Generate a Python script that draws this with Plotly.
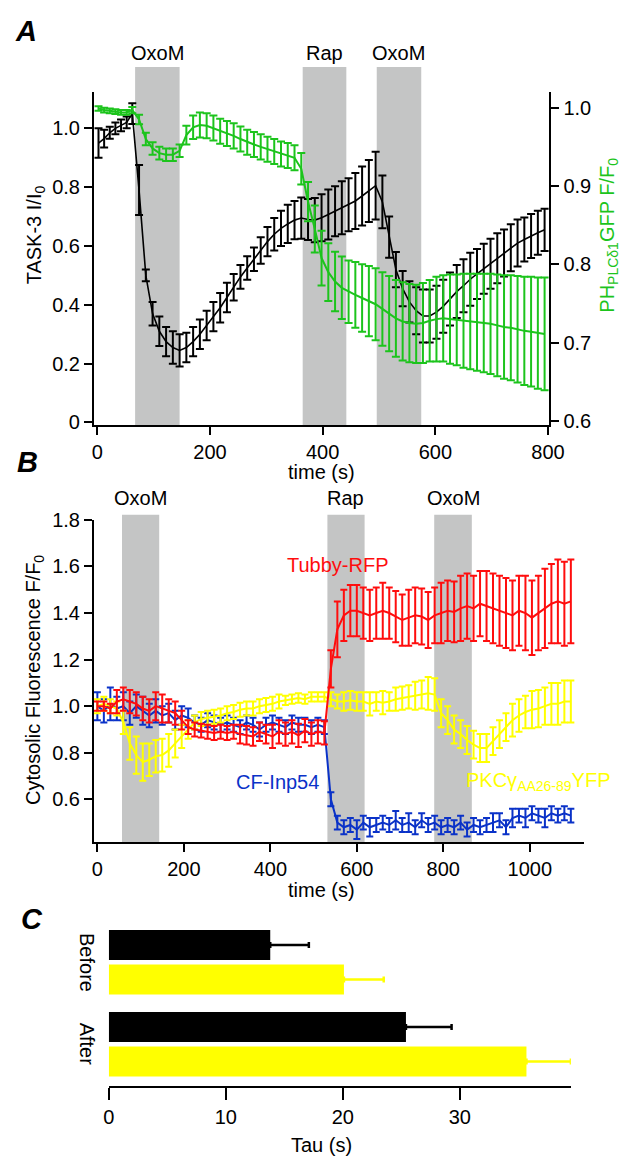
import plotly.graph_objects as go

W, H = 636, 1166
FONT = "Liberation Sans, Arial, Helvetica, sans-serif"

# ---------------- Panel A data ----------------
tA = [2, 12, 22, 32, 42, 52, 62,
      74, 86, 98, 110, 122, 134, 146, 158, 170, 182,
      194, 206, 218, 230, 242, 254, 266, 278, 290, 302,
      314, 326, 338, 350, 362, 374, 386, 398, 410, 422,
      434, 446, 458, 470, 482, 494, 506, 518, 530, 542,
      554, 566, 578, 590, 602, 614, 626, 638, 650, 662,
      674, 686, 698, 710, 722, 734, 746, 758, 770, 782,
      794]
task3 = [0.95, 0.965, 0.985, 1.0, 1.01, 1.02, 1.05,
         0.79, 0.50, 0.37, 0.31, 0.275, 0.255, 0.245, 0.255, 0.275, 0.30,
         0.33, 0.36, 0.39, 0.425, 0.46, 0.495, 0.525, 0.555, 0.585, 0.615,
         0.64, 0.66, 0.675, 0.688, 0.695, 0.69, 0.688, 0.696, 0.707, 0.718,
         0.73, 0.74, 0.753, 0.77, 0.787, 0.805, 0.75, 0.63, 0.52, 0.455,
         0.41, 0.38, 0.362, 0.362, 0.375, 0.395, 0.42, 0.445, 0.465, 0.487,
         0.505, 0.523, 0.54, 0.558, 0.576, 0.594, 0.61, 0.622, 0.634, 0.645,
         0.655]
task3_err = [0.05, 0.03, 0.02, 0.02, 0.02, 0.02, 0.035,
             0.085, 0.02, 0.04, 0.05, 0.05, 0.055, 0.055, 0.05, 0.05, 0.05,
             0.05, 0.05, 0.05, 0.05, 0.045, 0.04, 0.04, 0.04, 0.045, 0.05,
             0.055, 0.06, 0.065, 0.065, 0.07, 0.07, 0.075, 0.08, 0.085, 0.085,
             0.09, 0.09, 0.095, 0.10, 0.105, 0.115, 0.09, 0.07, 0.06, 0.06,
             0.07, 0.08, 0.09, 0.09, 0.09, 0.09, 0.09, 0.09, 0.09, 0.09,
             0.085, 0.085, 0.085, 0.085, 0.08, 0.08, 0.08, 0.075, 0.075, 0.075,
             0.072]
ph = [0.999, 0.997, 0.996, 0.995, 0.994, 0.994, 0.997,
      0.985, 0.96, 0.948, 0.942, 0.940, 0.940, 0.945, 0.965, 0.975, 0.978,
      0.977, 0.974, 0.970, 0.967, 0.964, 0.960, 0.956, 0.953, 0.950, 0.947,
      0.944, 0.941, 0.939, 0.936, 0.922, 0.880, 0.845, 0.808, 0.790, 0.778,
      0.770, 0.765, 0.761, 0.757, 0.753, 0.749, 0.743, 0.737, 0.731, 0.727,
      0.725, 0.724, 0.725, 0.728, 0.730, 0.731, 0.730, 0.729, 0.728, 0.727,
      0.726, 0.725, 0.724, 0.722, 0.720, 0.719, 0.717, 0.715, 0.714, 0.712,
      0.711]
ph_err = [0.003, 0.003, 0.003, 0.003, 0.003, 0.003, 0.004,
          0.006, 0.008, 0.008, 0.008, 0.008, 0.008, 0.008, 0.012, 0.015, 0.016,
          0.016, 0.016, 0.016, 0.016, 0.016, 0.016, 0.016, 0.016, 0.016, 0.016,
          0.016, 0.016, 0.016, 0.016, 0.02, 0.025, 0.03, 0.035, 0.037, 0.038,
          0.04, 0.04, 0.042, 0.043, 0.045, 0.046, 0.047, 0.048, 0.049, 0.05,
          0.05, 0.05, 0.051, 0.052, 0.054, 0.055, 0.057, 0.058, 0.06, 0.061,
          0.062, 0.063, 0.064, 0.065, 0.066, 0.067, 0.068, 0.069, 0.07, 0.071,
          0.072]
bandsA = [(67, 146, "OxoM"), (364.5, 442, "Rap"), (496, 575, "OxoM")]

# ---------------- Panel B data ----------------
tB = [0, 15, 30, 45, 60, 75, 90, 105, 120, 135,
      150, 165, 180, 195, 210, 225, 240, 255, 270, 285,
      300, 315, 330, 345, 360, 375, 390, 405, 420, 435,
      450, 465, 480, 495, 510, 525, 540, 555, 570, 585,
      600, 615, 630, 645, 660, 675, 690, 705, 720, 735,
      750, 765, 780, 795, 810, 825, 840, 855, 870, 885,
      900, 915, 930, 945, 960, 975, 990, 1005, 1020, 1035,
      1050, 1065, 1080, 1095]
tubby = [1.00, 1.00, 0.99, 1.02, 1.03, 1.02, 1.01, 0.99, 0.98, 1.00,
         0.99, 0.98, 0.97, 0.94, 0.91, 0.90, 0.895, 0.89, 0.885, 0.89,
         0.885, 0.89, 0.88, 0.875, 0.87, 0.89, 0.88, 0.87, 0.89, 0.88,
         0.89, 0.875, 0.895, 0.88, 0.89, 0.885, 1.16, 1.33, 1.39, 1.41,
         1.41, 1.40, 1.39, 1.40, 1.41, 1.40, 1.385, 1.37, 1.38, 1.39,
         1.385, 1.37, 1.39, 1.40, 1.41, 1.405, 1.42, 1.43, 1.42, 1.44,
         1.43, 1.42, 1.41, 1.40, 1.39, 1.41, 1.40, 1.38, 1.40, 1.42,
         1.44, 1.45, 1.44, 1.45]
tubby_err = [0.02, 0.02, 0.02, 0.05, 0.05, 0.05, 0.05, 0.05, 0.05, 0.06,
             0.06, 0.05, 0.05, 0.04, 0.03, 0.03, 0.03, 0.03, 0.03, 0.03,
             0.03, 0.03, 0.04, 0.04, 0.04, 0.04, 0.04, 0.05, 0.05, 0.05,
             0.05, 0.05, 0.05, 0.05, 0.05, 0.05, 0.08, 0.12, 0.11, 0.11,
             0.11, 0.11, 0.11, 0.11, 0.12, 0.11, 0.11, 0.11, 0.12, 0.12,
             0.12, 0.12, 0.12, 0.13, 0.13, 0.13, 0.14, 0.14, 0.14, 0.14,
             0.15, 0.15, 0.15, 0.15, 0.15, 0.15, 0.16, 0.16, 0.16, 0.17,
             0.17, 0.18, 0.18, 0.18]
inp54 = [1.00, 0.98, 1.01, 0.99, 1.00, 0.97, 1.00, 0.98, 0.96, 0.98,
         0.96, 0.97, 0.94, 0.96, 0.95, 0.93, 0.92, 0.94, 0.93, 0.92,
         0.93, 0.92, 0.91, 0.93, 0.92, 0.90, 0.92, 0.93, 0.92, 0.91,
         0.93, 0.92, 0.92, 0.91, 0.92, 0.91, 0.60, 0.50, 0.48, 0.49,
         0.47, 0.50, 0.48, 0.49, 0.50, 0.49, 0.51, 0.49, 0.50, 0.48,
         0.51, 0.49, 0.50, 0.48, 0.49, 0.48, 0.50, 0.47, 0.49, 0.48,
         0.49, 0.50, 0.51, 0.48, 0.52, 0.53, 0.52, 0.54, 0.53, 0.52,
         0.54, 0.53, 0.54, 0.53]
inp54_err = [0.06, 0.05, 0.07, 0.05, 0.06, 0.05, 0.05, 0.06, 0.05, 0.05,
             0.04, 0.04, 0.04, 0.04, 0.04, 0.03, 0.03, 0.03, 0.03, 0.03,
             0.03, 0.03, 0.03, 0.03, 0.03, 0.03, 0.03, 0.03, 0.03, 0.03,
             0.03, 0.03, 0.03, 0.03, 0.03, 0.03, 0.03, 0.03, 0.03, 0.03,
             0.04, 0.03, 0.04, 0.03, 0.03, 0.03, 0.04, 0.03, 0.04, 0.03,
             0.03, 0.03, 0.03, 0.03, 0.03, 0.03, 0.03, 0.03, 0.03, 0.03,
             0.03, 0.04, 0.03, 0.03, 0.04, 0.03, 0.04, 0.03, 0.03, 0.04,
             0.03, 0.03, 0.03, 0.03]
pkc = [1.00, 1.01, 1.00, 0.99, 0.93, 0.84, 0.79, 0.76, 0.77, 0.785,
       0.79, 0.81, 0.84, 0.87, 0.90, 0.93, 0.945, 0.95, 0.955, 0.96,
       0.97, 0.975, 0.985, 0.99, 0.99, 1.00, 1.005, 1.01, 1.02, 1.025,
       1.03, 1.035, 1.03, 1.04, 1.04, 1.04, 1.03, 1.02, 1.02, 1.025,
       1.02, 1.02, 1.01, 1.02, 1.015, 1.02, 1.03, 1.035, 1.04, 1.045,
       1.05, 1.055, 1.05, 0.97, 0.94, 0.90, 0.88, 0.855, 0.835, 0.82,
       0.82, 0.85, 0.88, 0.91, 0.94, 0.96, 0.975, 0.985, 0.99, 1.00,
       1.01, 1.01, 1.02, 1.02]
pkc_err = [0.03, 0.03, 0.03, 0.03, 0.05, 0.07, 0.08, 0.08, 0.07, 0.07,
           0.07, 0.07, 0.06, 0.05, 0.04, 0.03, 0.03, 0.03, 0.03, 0.03,
           0.03, 0.03, 0.03, 0.03, 0.03, 0.03, 0.03, 0.03, 0.03, 0.02,
           0.02, 0.02, 0.02, 0.02, 0.02, 0.02, 0.03, 0.03, 0.04, 0.04,
           0.04, 0.04, 0.05, 0.04, 0.05, 0.04, 0.05, 0.05, 0.05, 0.06,
           0.06, 0.07, 0.07, 0.06, 0.06, 0.06, 0.06, 0.06, 0.06, 0.06,
           0.06, 0.06, 0.06, 0.06, 0.07, 0.07, 0.07, 0.08, 0.08, 0.08,
           0.09, 0.09, 0.09, 0.09]
bandsB = [(57, 143, "OxoM"), (532, 618, "Rap"), (779, 866, "OxoM")]

# ---------------- Panel C data ----------------
groups = ["Before", "After"]
tau_black = [13.8, 25.4]
tau_black_err = [3.3, 3.9]
tau_yellow = [20.1, 35.7]
tau_yellow_err = [3.4, 3.8]

# ---------------- colours ----------------
BLACK = "#000000"
GREEN = "#1cc41c"
RED = "#ff0d0d"
BLUE = "#0a32c8"
YELLOW = "#ffff00"
GRAY = "#c4c5c5"


def px(x):
    return x / W


def py(y):
    return 1 - y / H


fig = go.Figure()

# Panel A traces
fig.add_trace(go.Scatter(
    x=tA, y=task3, mode="lines", line=dict(color=BLACK, width=1.6),
    error_y=dict(type="data", array=task3_err, color=BLACK, thickness=2, width=4),
    xaxis="x", yaxis="y", showlegend=False))
fig.add_trace(go.Scatter(
    x=tA, y=ph, mode="lines", line=dict(color=GREEN, width=2),
    error_y=dict(type="data", array=ph_err, color=GREEN, thickness=2, width=4),
    xaxis="x", yaxis="y2", showlegend=False))

# Panel B traces
for vals, errs, col in [(inp54, inp54_err, BLUE), (pkc, pkc_err, YELLOW), (tubby, tubby_err, RED)]:
    fig.add_trace(go.Scatter(
        x=tB, y=vals, mode="lines", line=dict(color=col, width=2),
        error_y=dict(type="data", array=errs, color=col, thickness=2, width=3.5),
        xaxis="x2", yaxis="y3", showlegend=False))

# Panel C traces
fig.add_trace(go.Bar(
    x=tau_black, y=groups, orientation="h", marker=dict(color=BLACK, line=dict(width=0)),
    error_x=dict(type="data", array=tau_black_err, arrayminus=[0, 0], symmetric=False,
                 color=BLACK, thickness=2.5, width=3),
    xaxis="x3", yaxis="y4", showlegend=False))
fig.add_trace(go.Bar(
    x=tau_yellow, y=groups, orientation="h", marker=dict(color=YELLOW, line=dict(width=0)),
    error_x=dict(type="data", array=tau_yellow_err, arrayminus=[0, 0], symmetric=False,
                 color=YELLOW, thickness=2.5, width=3),
    xaxis="x3", yaxis="y4", showlegend=False))

shapes = []
annotations = []


def ann(text, x, y, size=20, color="black", angle=0, xanchor="center"):
    annotations.append(dict(text=text, x=px(x), y=py(y), xref="paper", yref="paper",
                            showarrow=False, xanchor=xanchor, yanchor="middle",
                            textangle=angle, font=dict(size=size, color=color, family=FONT)))


for (a, b, lab) in bandsA:
    shapes.append(dict(type="rect", xref="x", yref="paper", x0=a, x1=b,
                       y0=py(421), y1=py(57), fillcolor=GRAY, line=dict(width=0), layer="below"))
    annotations.append(dict(text=lab, x=(a + b) / 2, y=py(43), xref="x", yref="paper",
                            showarrow=False, xanchor="center", yanchor="middle",
                            font=dict(size=20, color="black", family=FONT)))
for (a, b, lab) in bandsB:
    shapes.append(dict(type="rect", xref="x2", yref="paper", x0=a, x1=b,
                       y0=py(845), y1=py(512), fillcolor=GRAY, line=dict(width=0), layer="below"))
    annotations.append(dict(text=lab, x=(a + b) / 2, y=py(495), xref="x2", yref="paper",
                            showarrow=False, xanchor="center", yanchor="middle",
                            font=dict(size=20, color="black", family=FONT)))

# panel letters
ann("<b><i>A</i></b>", 21, 20, size=29)
ann("<b><i>B</i></b>", 22, 458, size=29)
ann("<b><i>C</i></b>", 27, 923, size=29)

# axis titles
ann("TASK-3 I/I<sub>0</sub>", 30, 228, angle=-90)
ann("PH<sub>PLCδ1</sub>GFP F/F<sub>0</sub>", 623, 228, color=GREEN, angle=-90)
ann("time (s)", 326, 469)
ann("Cytosolic Fluorescence F/F<sub>0</sub>", 30, 680, angle=-90)
ann("time (s)", 326, 894)
ann("Tau (s)", 326, 1153)

# series labels in B
ann("Tubby-RFP", 343, 563, color=RED)
ann("CF-Inp54", 281, 784, color=BLUE)
ann("PKCγ<sub>AA26-89</sub>YFP", 551, 783, color=YELLOW)

# group labels in C
for g, yc in zip(groups, [967, 1050]):
    ann(g, 84, yc, angle=90)

axis_common = dict(showline=True, linewidth=2, linecolor="black", ticks="outside",
                   ticklen=8, tickwidth=2, tickcolor="black", showgrid=False, zeroline=False,
                   tickfont=dict(size=20, color="black", family=FONT), fixedrange=True)

fig.update_layout(
    width=W, height=H, margin=dict(l=0, r=0, t=0, b=0),
    paper_bgcolor="white", plot_bgcolor="rgba(0,0,0,0)",
    font=dict(family=FONT, size=20, color="black"),
    barmode="group", bargap=0.16, bargroupgap=0.13,
    shapes=shapes, annotations=annotations,
    xaxis=dict(domain=[px(91), px(562)], anchor="y", range=[-6, 802.6],
               tickvals=[0, 200, 400, 600, 800], **axis_common),
    yaxis=dict(domain=[py(421), py(82)], anchor="x", range=[-0.009, 1.1247],
               tickvals=[0, 0.2, 0.4, 0.6, 0.8, 1.0],
               ticktext=["0", "0.2", "0.4", "0.6", "0.8", "1.0"], **axis_common),
    yaxis2=dict(overlaying="y", side="right", anchor="x", range=[0.5946, 1.0205],
                tickvals=[0.6, 0.7, 0.8, 0.9, 1.0],
                ticktext=["0.6", "0.7", "0.8", "0.9", "1.0"], **axis_common),
    xaxis2=dict(domain=[px(91), px(598)], anchor="y3", range=[-7.8, 1126],
                tickvals=[0, 200, 400, 600, 800, 1000], **axis_common),
    yaxis3=dict(domain=[py(845), py(517.3)], anchor="x2", range=[0.4158, 1.8],
                tickvals=[0.6, 0.8, 1.0, 1.2, 1.4, 1.6, 1.8],
                ticktext=["0.6", "0.8", "1.0", "1.2", "1.4", "1.6", "1.8"], **axis_common),
    xaxis3=dict(domain=[px(106.3), px(584.2)], anchor="y4", range=[0, 39.5],
                tickvals=[0, 10, 20, 30], **{**axis_common, "ticklen": 12}),
    yaxis4=dict(domain=[py(1093.3), py(925)], anchor="x3", type="category",
                categoryorder="array", categoryarray=groups,
                range=[1.516, -0.503], showline=False, showticklabels=False,
                ticks="", showgrid=False, zeroline=False, fixedrange=True),
)

fig.write_html(
    "out.html",
    config={"displayModeBar": False},
    post_script="document.body.style.margin='0';document.body.style.overflow='hidden';",
)
